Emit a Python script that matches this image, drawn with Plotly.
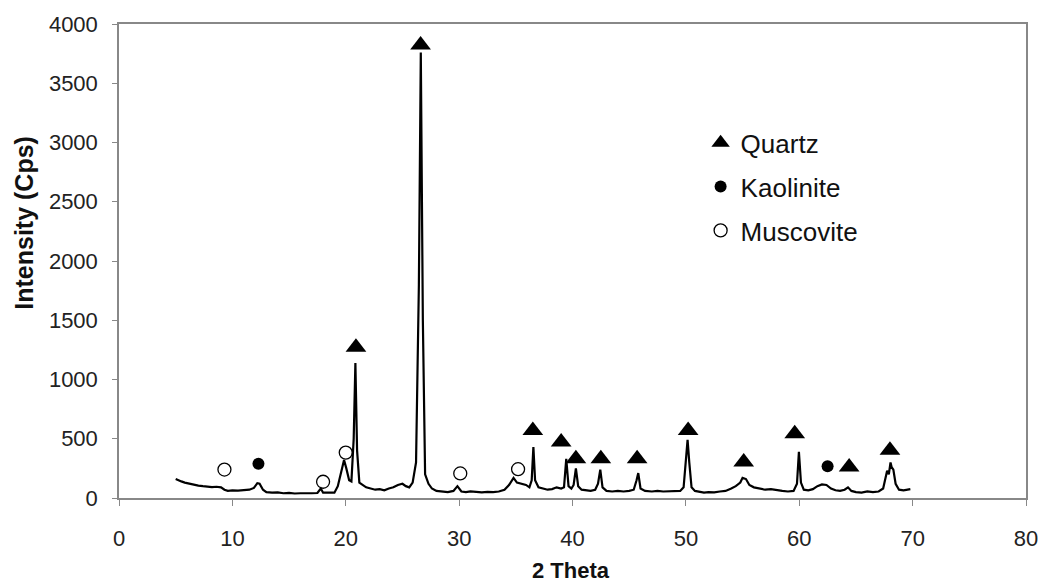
import plotly.graph_objects as go

# ---- diffraction pattern (2 Theta, intensity in Cps) ----
theta = [
    5.0, 5.2, 5.5, 5.8, 6.2, 6.6, 7.0, 7.4, 7.8, 8.2,
    8.6, 9.0, 9.3, 9.6, 10.0, 10.5, 11.0, 11.5, 11.9, 12.2,
    12.4, 12.7, 13.0, 13.5, 14.0, 14.5, 15.0, 15.5, 16.0, 16.5,
    17.0, 17.5, 17.8, 18.0, 18.5, 19.0, 19.3, 19.6, 19.85, 20.05,
    20.3, 20.5, 20.7, 20.85, 21.0, 21.2, 21.5, 21.8, 22.2, 22.6,
    23.0, 23.4, 23.8, 24.2, 24.6, 25.0, 25.3, 25.6, 25.9, 26.2,
    26.45, 26.62, 26.8, 27.0, 27.3, 27.6, 28.0, 28.5, 29.0, 29.5,
    29.85, 30.2, 30.6, 31.0, 31.5, 32.0, 32.5, 33.0, 33.5, 34.0,
    34.4, 34.8, 35.1, 35.5, 35.9, 36.2, 36.4, 36.55, 36.7, 37.0,
    37.4, 37.8, 38.2, 38.6, 39.0, 39.25, 39.45, 39.65, 39.9, 40.1,
    40.3, 40.5, 40.8, 41.2, 41.6, 42.0, 42.25, 42.45, 42.65, 43.0,
    43.5, 44.0, 44.5, 45.0, 45.4, 45.65, 45.8, 46.0, 46.4, 47.0,
    47.5, 48.0, 48.5, 49.0, 49.5, 49.8, 50.0, 50.15, 50.3, 50.5,
    50.8, 51.2, 51.6, 52.0, 52.5, 53.0, 53.5, 54.0, 54.4, 54.8,
    55.0, 55.3, 55.6, 56.0, 56.5, 57.0, 57.5, 58.0, 58.5, 59.0,
    59.5, 59.8, 59.97, 60.15, 60.4, 60.8, 61.2, 61.6, 62.0, 62.4,
    62.8, 63.2, 63.6, 64.0, 64.3, 64.6, 65.0, 65.5, 66.0, 66.5,
    67.0, 67.4, 67.6, 67.75, 67.9, 68.05, 68.15, 68.3, 68.5, 68.8,
    69.2, 69.6, 69.8,
]
intensity = [
    160, 150, 140, 130, 120, 110, 105, 100, 95, 92,
    95, 90, 70, 60, 65, 62, 66, 70, 85, 125,
    120, 70, 50, 45, 48, 40, 44, 38, 40, 38,
    40, 42, 80, 45, 42, 45, 100, 220, 320, 250,
    150, 140, 500, 1140, 400, 130, 110, 90, 80, 70,
    75, 65, 80, 90, 110, 120, 100, 90, 130, 300,
    1800, 3760, 1500, 200, 120, 80, 60, 55, 50, 60,
    100, 55, 50, 55, 50, 48, 52, 50, 55, 70,
    110, 170, 130, 120, 110, 90, 150, 430, 150, 90,
    80, 70, 75, 90, 80, 90, 330, 100, 80, 110,
    250, 100, 70, 65, 60, 70, 120, 240, 90, 60,
    55, 60, 55, 60, 70, 150, 210, 80, 60, 55,
    60, 55, 58, 60, 60, 90, 300, 490, 300, 90,
    60, 50, 45, 50, 48, 55, 60, 80, 100, 130,
    170, 160, 110, 90, 80, 70, 75, 65, 60, 55,
    60, 120, 390, 130, 70, 65, 75, 100, 115, 110,
    80, 65, 60, 70, 90, 60, 50, 45, 55, 50,
    55, 80, 180, 230, 200, 300, 260, 240, 120, 70,
    65, 70, 75,
]

# ---- phase markers ----
quartz_x = [20.9, 26.6, 36.5, 39.0, 40.3, 42.5, 45.7, 50.2, 55.1, 59.6, 64.4, 68.0]
quartz_y = [1273, 3822, 570, 472, 332, 332, 332, 570, 304, 542, 262, 402]
kaolinite_x = [12.3, 62.5]
kaolinite_y = [290, 268]
muscovite_x = [9.3, 18.0, 20.0, 30.1, 35.2]
muscovite_y = [240, 137, 383, 207, 243]

x_ticks = [0, 10, 20, 30, 40, 50, 60, 70, 80]
y_ticks = [0, 500, 1000, 1500, 2000, 2500, 3000, 3500, 4000]

FONT = "Liberation Sans, Arial, sans-serif"

fig = go.Figure()
fig.add_trace(go.Scatter(
    x=theta, y=intensity, mode="lines", showlegend=False,
    line=dict(color="black", width=2.2), hoverinfo="x+y",
))
fig.add_trace(go.Scatter(
    x=quartz_x, y=quartz_y, mode="markers", name="Quartz", legendgroup="q",
    marker=dict(symbol="triangle-up", size=18, color="black"),
))
fig.add_trace(go.Scatter(
    x=kaolinite_x, y=kaolinite_y, mode="markers", name="Kaolinite", legendgroup="k",
    marker=dict(symbol="circle", size=12, color="black"),
))
fig.add_trace(go.Scatter(
    x=muscovite_x, y=muscovite_y, mode="markers", name="Muscovite", legendgroup="m",
    marker=dict(symbol="circle-open", size=13, color="black", line=dict(width=1.3)),
))

L, R, T, B = 118.5, 20, 21, 87
W, H = 1050, 585
pw, ph = W - L - R, H - T - B

fig.update_layout(
    width=W, height=H,
    margin=dict(l=L, r=R, t=T, b=B, pad=0),
    paper_bgcolor="white", plot_bgcolor="white",
    font=dict(family=FONT, color="#222"),
    legend=dict(
        x=(703 - L) / pw, y=(498 - 117) / ph, xanchor="left", yanchor="top",
        font=dict(size=26, color="#111"), tracegroupgap=7,
        bgcolor="rgba(0,0,0,0)", itemsizing="trace",
    ),
    xaxis=dict(
        range=[0, 80], tickvals=x_ticks, showgrid=False, zeroline=False,
        showline=True, linecolor="#888", linewidth=1.5, mirror=True,
        ticks="outside", ticklen=6, tickcolor="#888", tickwidth=1.2,
        tickfont=dict(size=22, color="#222"), ticklabelstandoff=14,
    ),
    yaxis=dict(
        range=[0, 4000], tickvals=y_ticks, showgrid=False, zeroline=False,
        showline=True, linecolor="#888", linewidth=1.5, mirror=True,
        ticks="outside", ticklen=5, tickcolor="#888", tickwidth=1.2,
        tickfont=dict(size=22, color="#222"), ticklabelstandoff=10,
    ),
    annotations=[
        dict(text="<b>Intensity (Cps)</b>", textangle=-90, xref="paper", yref="paper",
             x=(23 - L) / pw, y=(498 - 221) / ph, xanchor="center", yanchor="middle",
             showarrow=False, font=dict(size=25, color="#111", family=FONT)),
        dict(text="<b>2 Theta</b>", xref="paper", yref="paper",
             x=(573 - L) / pw, y=(498 - 571) / ph, xanchor="center", yanchor="middle",
             showarrow=False, font=dict(size=22, color="#111", family=FONT)),
    ],
)

fig.write_html("out.html")
